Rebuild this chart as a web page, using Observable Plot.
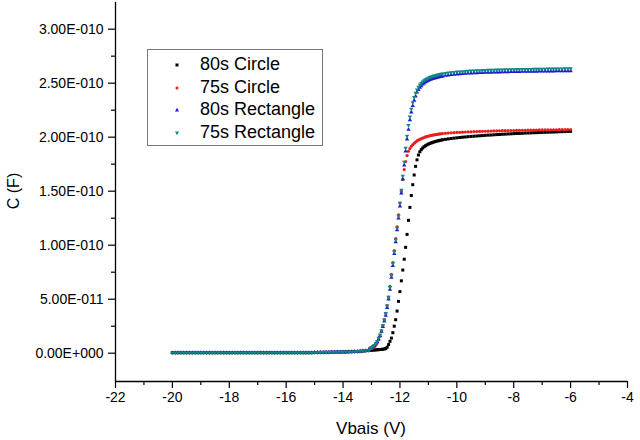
<!DOCTYPE html>
<html>
<head>
<meta charset="utf-8">
<script src="https://cdn.jsdelivr.net/npm/d3@7"></script>
<script src="https://cdn.jsdelivr.net/npm/@observablehq/plot@0.6"></script>
<style>
  html, body { margin: 0; padding: 0; background: #fff; }
  #wrap { position: relative; width: 640px; height: 440px; overflow: hidden; font-family: "Liberation Sans", Arial, sans-serif; }
  #wrap svg.plot { position: absolute; left: 0; top: 0; }
  .ytitle { position: absolute; left: 14px; top: 191px; transform: translate(-50%, -50%) rotate(-90deg); font-size: 16px; white-space: nowrap; color: #000; }
  .xtitle { position: absolute; left: 371px; top: 429px; transform: translate(-50%, -50%); font-size: 17px; white-space: nowrap; color: #000; }
  #legend { position: absolute; left: 147px; top: 49px; width: 174px; height: 92px; border: 1px solid #777; background: #fff; padding-top: 3px; box-sizing: content-box; }
  #legend .row { position: relative; height: 22.5px; line-height: 22.5px; font-size: 18px; color: #000; white-space: nowrap; }
  #legend .row svg { position: absolute; left: 24px; top: 7px; }
  #legend .row span { position: absolute; left: 52px; top: 0; }
</style>
</head>
<body>
<div id="wrap"></div>
<script>
// ---------- data (capacitance in pF, voltage in V) ----------
const seriesNames = ["80s Circle", "75s Circle", "80s Rectangle", "75s Rectangle"];
const seriesColors = ["#000000", "#ee1c1c", "#1b1bd6", "#138585"];

const xTicks = [-22, -20, -18, -16, -14, -12, -10, -8, -6, -4];
const xMinor = [-21, -19, -17, -15, -13, -11, -9, -7, -5];
const yTicks = [0, 50, 100, 150, 200, 250, 300];
const yMinor = [25, 75, 125, 175, 225, 275];
const xDomain = [-22, -4];
const yDomain = [-26.2, 324.7];

// flat region (shared by all four series)
const vA = [-20,-19.9,-19.8,-19.7,-19.6,-19.5,-19.4,-19.3,-19.2,-19.1,
  -19,-18.9,-18.8,-18.7,-18.6,-18.5,-18.4,-18.3,-18.2,-18.1,
  -18,-17.9,-17.8,-17.7,-17.6,-17.5,-17.4,-17.3,-17.2,-17.1,
  -17,-16.9,-16.8,-16.7,-16.6,-16.5,-16.4,-16.3,-16.2,-16.1,
  -16,-15.9,-15.8,-15.7,-15.6,-15.5,-15.4,-15.3,-15.2,-15.1,
  -15,-14.9,-14.8,-14.7,-14.6,-14.5,-14.4,-14.3,-14.2,-14.1,
  -14,-13.9,-13.8,-13.7,-13.6,-13.5,-13.4,-13.3,-13.2,-13.1];
const baseC = [0.5,0.5,0.5,0.5,0.5,0.5,0.5,0.5,0.5,0.5,
  0.5,0.5,0.5,0.5,0.5,0.5,0.5,0.5,0.5,0.5,
  0.5,0.5,0.5,0.5,0.5,0.5,0.5,0.5,0.5,0.5,
  0.5,0.5,0.5,0.5,0.5,0.5,0.5,0.5,0.5,0.5,
  0.5,0.5,0.5,0.5,0.5,0.5,0.5,0.5,0.5,0.5,
  0.7,0.7,0.8,0.8,0.9,0.9,1.0,1.0,1.1,1.1,
  1.2,1.2,1.3,1.4,1.5,1.6,1.8,2.0,2.3,2.6];

// transition region
const vB = [-13.05,-13.00,-12.95,-12.90,-12.85,
  -12.80,-12.75,-12.70,-12.65,-12.60,
  -12.55,-12.50,-12.45,-12.40,-12.35,
  -12.30,-12.25,-12.20,-12.15,-12.10,
  -12.05,-12.00,-11.95,-11.90,-11.85,
  -11.80,-11.75,-11.70,-11.65,-11.60,
  -11.55,-11.50,-11.45,-11.40,-11.35,
  -11.30,-11.25,-11.20,-11.15,-11.10,
  -11.05,-11.00,-10.95,-10.90,-10.85,
  -10.80,-10.75,-10.70,-10.65,-10.60,
  -10.55,-10.50];
const c80CircleB = [2.7,2.8,2.9,3.0,3.1,
  3.2,3.3,3.4,3.5,3.7,
  3.9,4.3,5.5,8,11,
  14,19,25,31,39,
  48,57,67,77,87,
  98,110,123,135,146,
  156,165,173,179,183.5,
  186.5,188.5,190,191.2,192.1,
  192.9,193.6,194.2,194.7,195.2,
  195.6,196,196.4,196.7,197,
  197.3,197.6];
const c75CircleB = [4,4.5,5,6,7.5,
  9.5,12.5,16,20.5,25.5,
  31,37,44,52,62,
  73,84,95,106,117,
  128,139,150,161,170,
  177.5,183,187,189.5,191.5,
  193,194.3,195.5,196.5,197.3,
  198,198.6,199.2,199.7,200.2,
  200.6,201,201.3,201.6,201.9,
  202.2,202.4,202.6,202.8,203,
  203.2,203.4];
const c80RectB = [4.5,5,6,7,8.5,
  10.5,13,16,20,24.5,
  29.5,35,42,50,59,
  70,81,92,103,114,
  125,136,148,161,174,
  187,198,207,216,223,
  229,234,238,241.5,244,
  246,247.5,249,250,251,
  251.8,252.5,253.1,253.6,254.1,
  254.5,254.9,255.3,255.6,255.9,
  256.2,256.5];
const c75RectB = [4.5,5.2,6.2,7.3,9,
  11,14,17,21,26,
  31,37,44,52,61,
  72,83,94,105,116,
  127,139,151,164,177,
  190,201,211,219,226,
  232,237,241,244,246.5,
  248.5,250,251.3,252.4,253.3,
  254.1,254.8,255.4,255.9,256.4,
  256.8,257.2,257.6,257.9,258.2,
  258.5,258.8];

// plateau region
const vC = [-10.4,-10.3,-10.2,-10.1,-10,
  -9.9,-9.8,-9.7,-9.6,-9.5,
  -9.4,-9.3,-9.2,-9.1,-9,
  -8.9,-8.8,-8.7,-8.6,-8.5,
  -8.4,-8.3,-8.2,-8.1,-8,
  -7.9,-7.8,-7.7,-7.6,-7.5,
  -7.4,-7.3,-7.2,-7.1,-7,
  -6.9,-6.8,-6.7,-6.6,-6.5,
  -6.4,-6.3,-6.2,-6.1,-6];
const c80CircleC = [198,198.4,198.8,199.1,199.4,
  199.7,200,200.2,200.5,200.7,
  200.9,201.1,201.3,201.5,201.7,
  201.9,202.0,202.2,202.4,202.5,
  202.7,202.8,203.0,203.1,203.3,
  203.4,203.5,203.6,203.8,203.9,
  204.0,204.1,204.2,204.3,204.4,
  204.5,204.6,204.7,204.8,204.9,
  205.0,205.1,205.2,205.3,205.4];
const c75CircleC = [203.6,203.8,204.0,204.2,204.4,
  204.5,204.6,204.8,204.9,205.0,
  205.1,205.2,205.3,205.4,205.5,
  205.6,205.7,205.8,205.8,205.9,
  206.0,206.0,206.1,206.2,206.2,
  206.3,206.3,206.4,206.4,206.5,
  206.5,206.6,206.6,206.7,206.7,
  206.8,206.8,206.8,206.9,206.9,
  207.0,207.0,207.0,207.1,207.1];
const c80RectC = [257,257.4,257.7,258,258.3,
  258.5,258.7,258.9,259.1,259.3,
  259.4,259.5,259.6,259.7,259.8,
  259.9,260.0,260.1,260.2,260.2,
  260.3,260.4,260.4,260.5,260.5,
  260.6,260.6,260.7,260.7,260.8,
  260.8,260.9,260.9,261.0,261.0,
  261.0,261.1,261.1,261.1,261.2,
  261.2,261.2,261.3,261.3,261.3];
const c75RectC = [259.2,259.6,259.9,260.2,260.5,
  260.7,260.9,261.1,261.3,261.5,
  261.6,261.7,261.8,261.9,262.0,
  262.1,262.2,262.3,262.4,262.4,
  262.5,262.6,262.6,262.7,262.7,
  262.8,262.8,262.9,262.9,263.0,
  263.0,263.1,263.1,263.2,263.2,
  263.2,263.3,263.3,263.3,263.4,
  263.4,263.4,263.5,263.5,263.5];

// ---------- build tables ----------
function build(name, cB, cC) {
  return [
    ...vA.map((v, i) => ({V: v, C: baseC[i], s: name})),
    ...vB.map((v, i) => ({V: v, C: cB[i], s: name})),
    ...vC.map((v, i) => ({V: v, C: cC[i], s: name}))
  ];
}
const d80Circle = build(seriesNames[0], c80CircleB, c80CircleC);
const d75Circle = build(seriesNames[1], c75CircleB, c75CircleC);
const d80Rect = build(seriesNames[2], c80RectB, c80RectC);
const d75Rect = build(seriesNames[3], c75RectB, c75RectC);

// Origin-style scientific tick labels (values in pF -> F)
function fmtE(v) {
  if (v === 0) return "0.00E+000";
  const e = Math.floor(Math.log10(Math.abs(v)) + 1e-9);
  const m = v / Math.pow(10, e);
  const exp = e - 12;
  return m.toFixed(2) + "E" + (exp < 0 ? "-" : "+") + String(Math.abs(exp)).padStart(3, "0");
}

const font = "'Liberation Sans', Arial, sans-serif";

const chart = Plot.plot({
  width: 640,
  height: 440,
  marginLeft: 115,
  marginRight: 13,
  marginTop: 2,
  marginBottom: 59,
  style: {fontFamily: font, fontSize: "14px", color: "#000", background: "transparent", overflow: "visible"},
  x: {domain: xDomain, label: null},
  y: {domain: yDomain, label: null},
  marks: [
    Plot.ruleX([xDomain[0]], {stroke: "#000", strokeWidth: 1.3}),
    Plot.ruleY([yDomain[0]], {stroke: "#000", strokeWidth: 1.3}),
    Plot.axisY({ticks: yTicks, tickSize: 7, tickPadding: 5, tickFormat: fmtE, label: null, fontSize: 14, stroke: "#000", strokeWidth: 1.2}),
    Plot.axisY({ticks: yMinor, tickSize: 4, tickFormat: () => "", label: null, stroke: "#000", strokeWidth: 1.2}),
    Plot.axisX({ticks: xTicks, tickSize: 7, tickPadding: 4, tickFormat: d => String(d), label: null, fontSize: 14, stroke: "#000", strokeWidth: 1.2}),
    Plot.axisX({ticks: xMinor, tickSize: 4, tickFormat: () => "", label: null, stroke: "#000", strokeWidth: 1.2}),
    Plot.dot(d80Circle, {x: "V", y: "C", symbol: "square", r: 1.7, fill: seriesColors[0], stroke: "none"}),
    Plot.dot(d75Circle, {x: "V", y: "C", symbol: "circle", r: 1.6, fill: seriesColors[1], stroke: "none"}),
    Plot.dot(d80Rect, {x: "V", y: "C", symbol: "triangle", r: 1.6, fill: seriesColors[2], stroke: "none"}),
    Plot.dot(d75Rect, {x: "V", y: "C", symbol: "triangle", rotate: 180, r: 1.6, fill: seriesColors[3], stroke: "none"})
  ]
});

const wrap = document.getElementById("wrap");
wrap.appendChild(chart);

const yt = document.createElement("div");
yt.className = "ytitle";
yt.textContent = "C (F)";
wrap.appendChild(yt);

const xt = document.createElement("div");
xt.className = "xtitle";
xt.textContent = "Vbais (V)";
wrap.appendChild(xt);

// legend
const markerSvgs = [
  '<svg width="10" height="10" viewBox="-5 -5 10 10"><rect x="-1.5" y="-1.5" width="3" height="3" fill="' + seriesColors[0] + '"/></svg>',
  '<svg width="10" height="10" viewBox="-5 -5 10 10"><circle r="1.5" fill="' + seriesColors[1] + '"/></svg>',
  '<svg width="10" height="10" viewBox="-5 -5 10 10"><path d="M0,-2.2L2,1.4L-2,1.4Z" fill="' + seriesColors[2] + '"/></svg>',
  '<svg width="10" height="10" viewBox="-5 -5 10 10"><path d="M0,2.2L2,-1.4L-2,-1.4Z" fill="' + seriesColors[3] + '"/></svg>'
];
const legend = document.createElement("div");
legend.id = "legend";
seriesNames.forEach((name, i) => {
  const row = document.createElement("div");
  row.className = "row";
  row.innerHTML = markerSvgs[i];
  const sp = document.createElement("span");
  sp.textContent = name;
  row.appendChild(sp);
  legend.appendChild(row);
});
wrap.appendChild(legend);
</script>
</body>
</html>
